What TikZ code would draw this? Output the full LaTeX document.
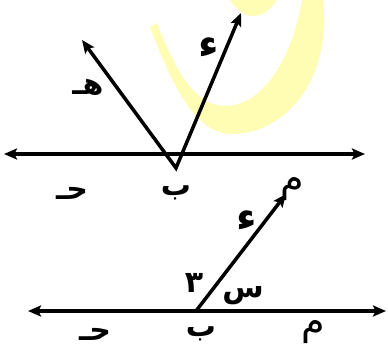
\documentclass[tikz,border=0pt]{standalone}
\usepackage{fontspec}
\TeXXeTstate=1
\newfontfamily\arabicfont[Script=Arabic]{DejaVu Sans}
\usetikzlibrary{arrows.meta}
\definecolor{wmyellow}{RGB}{255,253,180}
\begin{document}
\begin{tikzpicture}[x=1pt,y=-1pt,
  ray/.style={line width=3.5pt,line join=miter,{Stealth[length=13pt,width=11pt,inset=2.5pt]}-{Stealth[length=13pt,width=11pt,inset=2.5pt]}},
  oneray/.style={line width=3.5pt,-{Stealth[length=13pt,width=11pt,inset=2.5pt]}},
  lbl/.style={inner sep=0pt,font=\arabicfont\bfseries\fontsize{30}{30}\selectfont},
  hamza/.style={inner sep=0pt,font=\arabicfont\bfseries\fontsize{40}{40}\selectfont},
  thinlbl/.style={inner sep=0pt,anchor=north,font=\arabicfont\fontsize{38}{38}\selectfont}]
\useasboundingbox (0,0) rectangle (388,349);
% watermark
\fill[wmyellow] (150,27) .. controls (172,85) and (195,134) .. (232,134)
  .. controls (285,134) and (332,80) .. (323,0) -- (302,0)
  .. controls (292,60) and (262,106) .. (225,106)
  .. controls (195,106) and (175,70) .. (157,23) -- cycle;
\fill[wmyellow] (230,0) .. controls (235,8) and (244,16) .. (253,16)
  .. controls (263,16) and (272,8) .. (277,0) -- cycle;
% top figure
\coordinate (tl) at (4,154);
\coordinate (tr) at (365,154);
\coordinate (tb) at (176,168);
\coordinate (th) at (82,40);
\coordinate (td) at (241,13);
\draw[ray] (tl) -- (tr);
\draw[ray] (th) -- (tb) -- (td);
\node[lbl] (lh) at (88,87) {\beginR هـ\endR};
\node[hamza] (ld) at (209,48) {\beginR ء\endR};
\node[lbl] (lj) at (72,193) {\beginR حـ\endR};
\node[lbl] (lb) at (176,193) {\beginR ب\endR};
% bottom figure
\coordinate (bl) at (28,311);
\coordinate (br) at (386,311);
\coordinate (bb) at (196,311);
\coordinate (ba) at (286,194);
\draw[ray] (bl) -- (br);
\draw[oneray] (bb) -- (ba);
\node[thinlbl] (la) at (292,177) {\beginR م\endR};
\node[hamza] (ld2) at (247,221) {\beginR ء\endR};
\node[lbl] (l3) at (194,283) {\beginR ٣\endR};
\node[lbl] (ls) at (243,296) {\beginR س\endR};
\node[lbl] (lj2) at (95,334) {\beginR حـ\endR};
\node[lbl] (lb2) at (201,334) {\beginR ب\endR};
\node[thinlbl] (la2) at (313,320) {\beginR م\endR};
\end{tikzpicture}
\end{document}
